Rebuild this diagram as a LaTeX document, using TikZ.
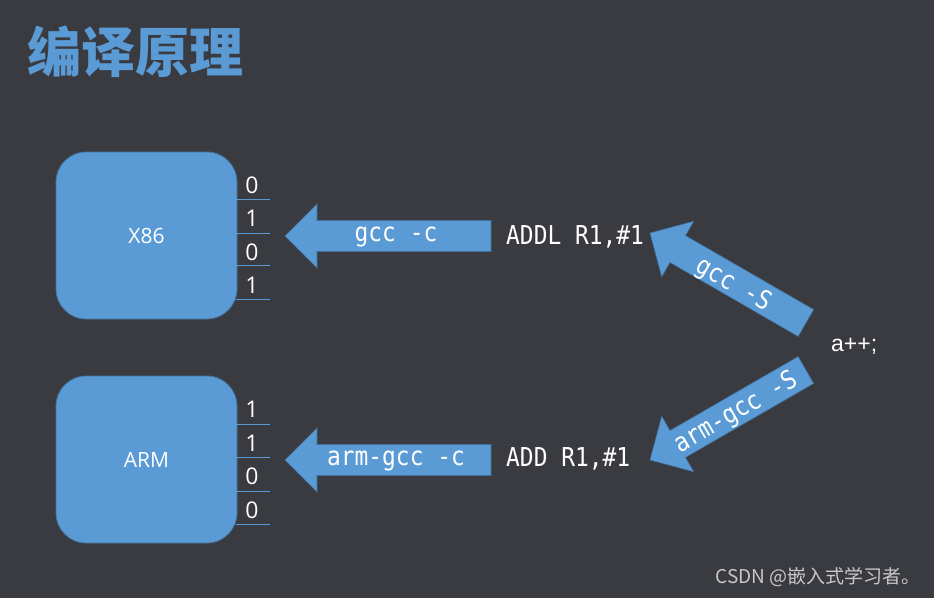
\documentclass[tikz,border=0pt]{standalone}
\usepackage{fontspec}
\setmainfont{Open Sans}
\newfontfamily\cjkfont{Noto Sans CJK SC}
\newfontfamily\codefont[FakeStretch=0.88]{DejaVu Sans Mono}
\newfontfamily\arialfont{Liberation Sans}
\definecolor{bgc}{RGB}{58,59,64}
\definecolor{ablue}{RGB}{91,155,213}
\definecolor{dblue}{RGB}{65,113,156}
\definecolor{wmark}{RGB}{200,200,200}
\tikzset{
  cpu/.style={draw=dblue, line width=0.8pt, fill=ablue, rounded corners=30pt,
    minimum width=181pt, minimum height=167pt, text=white,
    font=\fontsize{21}{24}\selectfont},
  bit/.style={text=white, inner sep=0pt, font=\fontsize{23}{25}\selectfont},
  bitline/.style={draw=ablue, line width=0.9pt},
  arrowshape/.style={fill=ablue, draw=dblue, line width=0.6pt},
  codetxt/.style={text=white, inner sep=0pt, font=\codefont\fontsize{26}{28}\selectfont},
}
\newcommand\fatarrow[3]{%
  \begin{scope}[shift={#1},rotate=#2]
    \draw[arrowshape] (0,0) -- (32,-32) -- (32,-15.5) -- (#3,-15.5) -- (#3,15.5)
      -- (32,15.5) -- (32,32) -- cycle;
  \end{scope}}
\begin{document}
\begin{tikzpicture}[x=1pt,y=-1pt]
\fill[bgc] (0,0) rectangle (934,598);
\useasboundingbox (0,0) rectangle (934,598);

% title
\node[anchor=west, text=ablue, inner sep=0pt,
  font=\cjkfont\bfseries\fontsize{54}{58}\selectfont] (title) at (27,52) {编译原理};

% CPU boxes
\node[cpu] (x86) at (146.5,235.5) {X86};
\node[cpu] (arm) at (146.5,459.5) {ARM};

% bits X86
\node[bit] (xa) at (252,185) {0};
\node[bit] (xb) at (252,218) {1};
\node[bit] (xc) at (252,252) {0};
\node[bit] (xd) at (252,285) {1};
\foreach \yy in {199,233,265,299} \draw[bitline] (236,\yy) -- (270,\yy);

% bits ARM
\node[bit] (aa) at (252,409) {1};
\node[bit] (ab) at (252,443) {1};
\node[bit] (ac) at (252,476) {0};
\node[bit] (ad) at (252,510) {0};
\foreach \yy in {424,457,491,524} \draw[bitline] (236,\yy) -- (270,\yy);

% block arrows
\fatarrow{(285,236)}{0}{206}
\fatarrow{(285,460)}{0}{206}
\fatarrow{(650,233)}{-30}{180}
\fatarrow{(650,460)}{30}{180}

% arrow labels
\node[codetxt] (l1) at (396,237) {gcc -c};
\node[codetxt] (l2) at (396,461) {arm-gcc -c};
\node[codetxt, rotate=-30] (l3) at (733,285) {gcc~-S};
\node[codetxt, rotate=30] (l4) at (736,413) {arm-gcc~-S};

% assembly
\node[codetxt, anchor=west] (asm1) at (506,237) {ADDL R1,\#1};
\node[codetxt, anchor=west] (asm2) at (506,459) {ADD R1,\#1};

% source
\node[text=white, inner sep=0pt, anchor=west,
  font=\arialfont\fontsize{23}{26}\selectfont] (src) at (831,346) {a++;};

% watermark
\node[text=wmark, inner sep=0pt, anchor=east,
  font=\cjkfont\fontsize{19}{21}\selectfont] (wm) at (921,577) {CSDN @嵌入式学习者。};
\end{tikzpicture}
\end{document}
